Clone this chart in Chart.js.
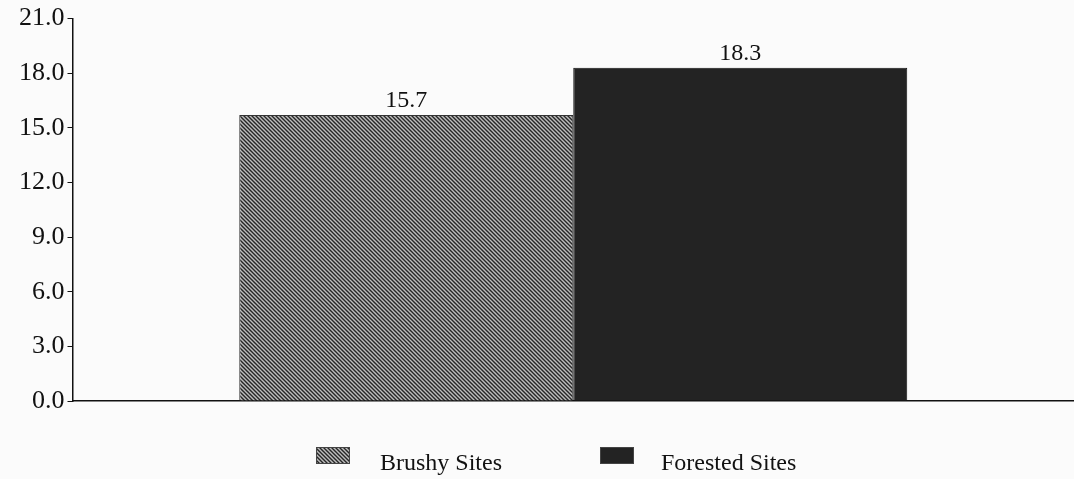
<!DOCTYPE html>
<html>
<head>
<meta charset="utf-8">
<script src="https://cdn.jsdelivr.net/npm/chart.js@4"></script>
<style>
  html, body { margin: 0; padding: 0; background: #fbfbfb; }
  #wrap { width: 1074px; height: 479px; }
</style>
</head>
<body>
<div id="wrap"><canvas id="c" width="1074" height="479"></canvas></div>
<script>
// data
var categories = [""];
var seriesNames = ["Brushy Sites", "Forested Sites"];
var brushy = [15.7];
var forested = [18.3];
var yTicks = [0, 3, 6, 9, 12, 15, 18, 21];

// diagonal hatch for brushy bars
function makeHatch() {
  var p = document.createElement("canvas");
  p.width = 4; p.height = 4;
  var g = p.getContext("2d");
  g.fillStyle = "#bdbdbd";
  g.fillRect(0, 0, 4, 4);
  g.strokeStyle = "#262626";
  g.lineWidth = 1.4;
  g.beginPath();
  g.moveTo(-1, -1); g.lineTo(5, 5);
  g.moveTo(-1, 3); g.lineTo(1, 5);
  g.moveTo(3, -1); g.lineTo(5, 1);
  g.stroke();
  return g.createPattern(p, "repeat");
}
var ctx = document.getElementById("c").getContext("2d");
var hatch = makeHatch();
var darkFill = "#232323";

var FONT = "'Liberation Serif', 'DejaVu Serif', serif";

// value labels over the bars
var valueLabels = {
  id: "valueLabels",
  afterDatasetsDraw: function(chart) {
    var c = chart.ctx;
    c.save();
    c.font = "24px " + FONT;
    c.fillStyle = "#111";
    c.textAlign = "center";
    c.textBaseline = "bottom";
    chart.data.datasets.forEach(function(ds, i) {
      chart.getDatasetMeta(i).data.forEach(function(bar, j) {
        c.fillText(ds.data[j].toFixed(1), bar.x, bar.y - 2);
      });
    });
    c.restore();
  }
};

// legend drawn under the plot
var bottomLegend = {
  id: "bottomLegend",
  afterDraw: function(chart) {
    var c = chart.ctx;
    var y = 455;
    var items = [{ x: 316, tx: 380 }, { x: 600, tx: 661 }];
    c.save();
    c.font = "24px " + FONT;
    c.textBaseline = "middle";
    chart.data.datasets.forEach(function(ds, i) {
      var it = items[i];
      c.fillStyle = ds.backgroundColor;
      c.fillRect(it.x, y - 8, 34, 17);
      c.strokeStyle = "#444";
      c.lineWidth = 1;
      c.strokeRect(it.x + 0.5, y - 7.5, 33, 16);
      c.fillStyle = "#111";
      c.fillText(ds.label, it.tx, y + 9);
    });
    c.restore();
  }
};

new Chart(ctx, {
  type: "bar",
  data: {
    labels: categories,
    datasets: [
      { label: seriesNames[0], data: brushy, backgroundColor: hatch, borderColor: "#333", borderWidth: 1 },
      { label: seriesNames[1], data: forested, backgroundColor: darkFill, borderColor: "#111", borderWidth: 1 }
    ]
  },
  options: {
    responsive: false,
    animation: false,
    layout: { padding: { top: 12, right: 0, bottom: 70, left: 16 } },
    plugins: {
      legend: { display: false },
      tooltip: { enabled: false }
    },
    datasets: { bar: { barPercentage: 1, categoryPercentage: 0.667 } },
    scales: {
      x: {
        grid: { display: false },
        border: { display: true, color: "#111", width: 1.5 },
        ticks: { display: false }
      },
      y: {
        min: 0, max: 21,
        afterBuildTicks: function(axis) {
          axis.ticks = yTicks.map(function(v) { return { value: v }; });
        },
        grid: { drawOnChartArea: false, drawTicks: true, tickLength: 5, color: "#111" },
        border: { display: true, color: "#111", width: 1.5 },
        ticks: {
          color: "#111",
          padding: 3,
          font: { family: FONT, size: 26 },
          callback: function(v) { return Number(v).toFixed(1); }
        }
      }
    }
  },
  plugins: [valueLabels, bottomLegend]
});
</script>
</body>
</html>
